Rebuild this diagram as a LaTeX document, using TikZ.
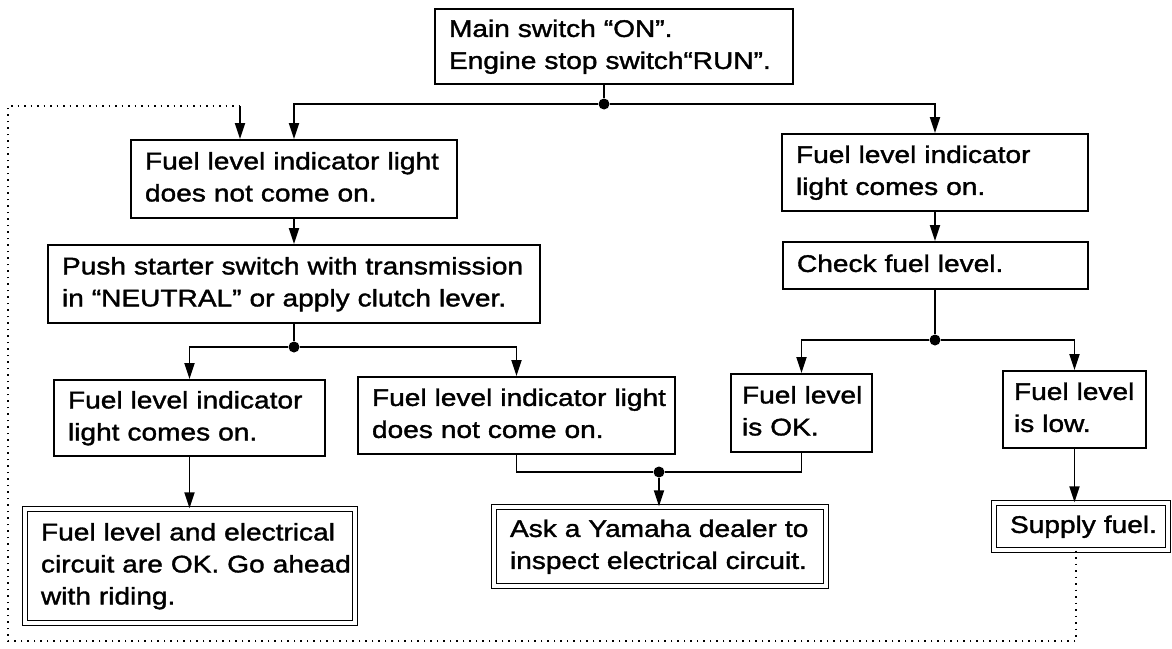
\documentclass[tikz,border=0pt]{standalone}
\usepackage{fontspec}
\setmainfont{Liberation Sans}[FakeStretch=1.17,FakeBold=1.5]
\usetikzlibrary{arrows.meta}
\newcommand\boxline[1]{\mbox{\strut #1}}
\begin{document}
\begin{tikzpicture}[x=1pt,y=-1pt,
  box/.style={draw, line width=1.8pt, rectangle, inner ysep=0pt, inner xsep=14pt, align=left,
              font=\fontsize{24}{32}\selectfont},
  dbox/.style={box, double, double distance=3.2pt, line width=1.4pt, inner xsep=16pt},
  conn/.style={line width=1.9pt},
  arr/.style={conn, -{Triangle[length=16pt,width=10pt]}},
  jdot/.style={circle, fill, inner sep=0pt, minimum size=11pt},
  loopline/.style={line width=1.4pt, dash pattern=on 1.5pt off 5pt}
]
\useasboundingbox (0,0) rectangle (1172,648);

% boxes
\node[box, minimum width=358pt, minimum height=75pt, text width=330pt] (top) at (614,46.5)
  {\boxline{Main switch “ON”.}\\\boxline{Engine stop switch“RUN”.}};
\node[box, minimum width=326pt, minimum height=78pt, text width=298pt] (B1) at (294,179)
  {\boxline{Fuel level indicator light}\\\boxline{does not come on.}};
\node[box, minimum width=306pt, minimum height=77pt, text width=278pt] (R1) at (935,172.5)
  {\boxline{Fuel level indicator}\\\boxline{light comes on.}};
\node[box, minimum width=492pt, minimum height=78pt, text width=464pt] (B2) at (294,284)
  {\boxline{Push starter switch with transmission}\\\boxline{in “NEUTRAL” or apply clutch lever.}};
\node[box, minimum width=305pt, minimum height=47pt, text width=277pt] (R2) at (935.5,265.5)
  {\boxline{Check fuel level.}};
\node[box, minimum width=271pt, minimum height=76pt, text width=243pt] (L1) at (189.5,418)
  {\boxline{Fuel level indicator}\\\boxline{light comes on.}};
\node[box, minimum width=317pt, minimum height=77pt, text width=289pt] (L2) at (516.5,415.5)
  {\boxline{Fuel level indicator light}\\\boxline{does not come on.}};
\node[box, inner xsep=11pt, minimum width=141pt, minimum height=78pt, text width=119pt] (OK) at (801.5,413)
  {\boxline{Fuel level}\\\boxline{is OK.}};
\node[box, inner xsep=11pt, minimum width=143pt, minimum height=77pt, text width=121pt] (Low) at (1074.5,409.5)
  {\boxline{Fuel level}\\\boxline{is low.}};
\node[dbox, minimum width=330pt, minimum height=114pt, text width=298pt] (L3) at (190,566)
  {\boxline{Fuel level and electrical}\\\boxline{circuit are OK. Go ahead}\\\boxline{with riding.}};
\node[dbox, minimum width=332pt, minimum height=79pt, text width=300pt] (Ask) at (660,546.5)
  {\boxline{Ask a Yamaha dealer to}\\\boxline{inspect electrical circuit.}};
\node[dbox, minimum width=174pt, minimum height=47pt, text width=142pt] (Supply) at (1081,526.5)
  {\boxline{Supply fuel.}};

% junctions
\node[jdot] (j1) at (604,104) {};
\node[jdot] (j2) at (294,347) {};
\node[jdot] (j3) at (659,472) {};
\node[jdot] (j4) at (935,340) {};

% connectors
\draw[conn] (top.south -| j1) -- (j1);
\draw[arr] (j1) -| (B1.north);
\draw[arr] (j1) -| (R1.north);
\draw[arr] (B1.south) -- (B2.north);
\draw[arr] (R1.south) -- (R1.south |- R2.north);
\draw[conn] (B2.south) -- (j2);
\draw[arr] (j2) -| (L1.north);
\draw[arr] (j2) -| (L2.north);
\draw[arr] (L1.south) -- (L1.south |- L3.north);
\draw[conn] (L2.south) |- (j3);
\draw[conn] (OK.south) |- (j3);
\draw[arr] (j3) -- (j3 |- Ask.north);
\draw[conn] (R2.south -| j4) -- (j4);
\draw[arr] (j4) -| (OK.north);
\draw[arr] (j4) -| (Low.north);
\draw[arr] (Low.south) -- (Low.south |- Supply.north);

% dotted return loop
\coordinate (c1) at (1076,641);
\coordinate (c2) at (8,641);
\coordinate (c3) at (8,106);
\coordinate (c4) at (240,106);
\draw[loopline] (Supply.south -| c1) -- (c1) -- (c2) -- (c3) -- (c4);
\draw[arr] (c4) -- (c4 |- B1.north);
\end{tikzpicture}
\end{document}
